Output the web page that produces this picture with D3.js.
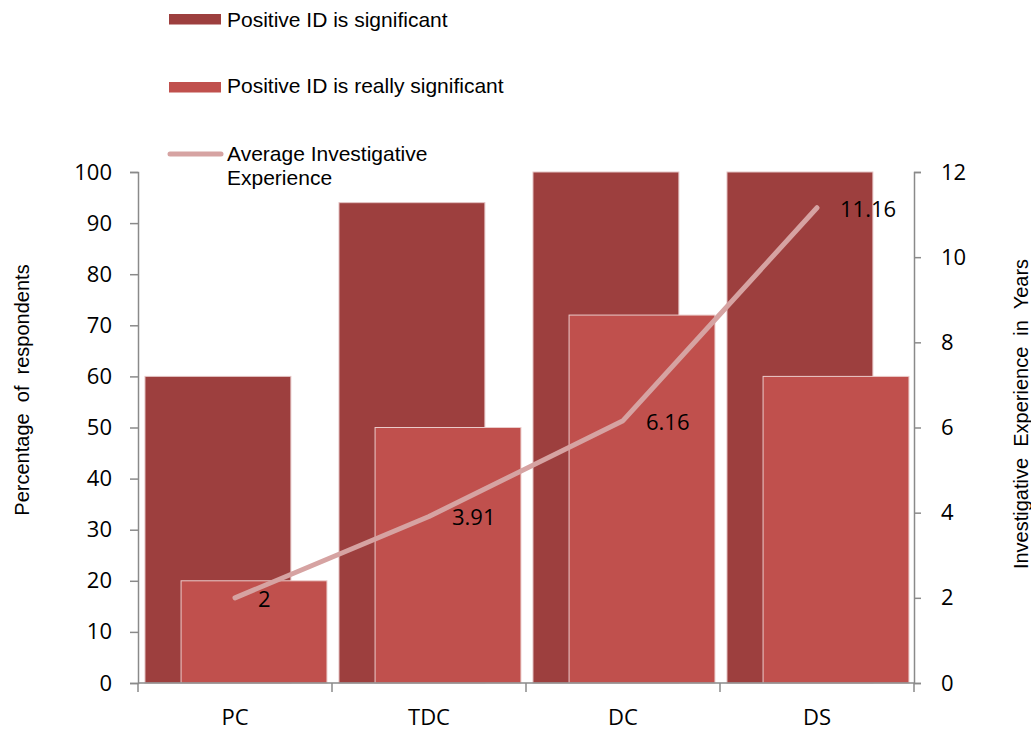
<!DOCTYPE html>
<html>
<head>
<meta charset="utf-8">
<script src="https://cdn.jsdelivr.net/npm/d3@7"></script>
<style>
  html, body { margin: 0; padding: 0; background: #fff; }
  svg { display: block; }
  .num { font-family: "Open Sans", "Noto Sans", sans-serif; font-size: 22px; fill: #000; }
  .lbl { font-family: "Liberation Sans", Arial, sans-serif; font-size: 21px; fill: #000; }
  .ttl { font-family: "Liberation Sans", Arial, sans-serif; font-size: 20px; fill: #000; white-space: pre; }
</style>
</head>
<body>
<svg id="chart" width="1031" height="730"></svg>
<script>
// Survey data
const categories = ["PC", "TDC", "DC", "DS"];
const significant = [60, 94, 100, 100];
const reallySignificant = [20, 50, 72, 60];
const avgExperience = [2, 3.91, 6.16, 11.16];
const leftTicks = [0, 10, 20, 30, 40, 50, 60, 70, 80, 90, 100];
const rightTicks = [0, 2, 4, 6, 8, 10, 12];

const colDark = "#9d3f3e";
const colLight = "#c0504d";
const colLine = "#d6a3a2";
const axisCol = "#8a8a8a";

const svg = d3.select("#chart");
const plot = { left: 138, right: 914, top: 172, bottom: 683 };

const x = d3.scaleBand().domain(categories).range([plot.left, plot.right]).padding(0);
const yL = d3.scaleLinear().domain([0, 100]).range([plot.bottom, plot.top]);
const yR = d3.scaleLinear().domain([0, 12]).range([plot.bottom, plot.top]);

const bw = x.bandwidth();
const barW = bw * 0.752;
const offDark = bw * 0.036;
const offLight = bw * 0.222;

// Bars: first series behind, second overlapping in front
svg.append("g").selectAll("rect").data(categories).join("rect")
  .attr("x", (d) => x(d) + offDark)
  .attr("y", (d, i) => yL(significant[i]))
  .attr("width", barW)
  .attr("height", (d, i) => yL(0) - yL(significant[i]))
  .attr("fill", colDark)
  .attr("stroke", "#e4c3c3").attr("stroke-width", 1);

svg.append("g").selectAll("rect").data(categories).join("rect")
  .attr("x", (d) => x(d) + offLight)
  .attr("y", (d, i) => yL(reallySignificant[i]))
  .attr("width", barW)
  .attr("height", (d, i) => yL(0) - yL(reallySignificant[i]))
  .attr("fill", colLight)
  .attr("stroke", "#ebcbca").attr("stroke-width", 1);

// Axes
const axL = d3.axisLeft(yL).tickValues(leftTicks).tickSize(8).tickPadding(18);
const gL = svg.append("g").attr("transform", `translate(${plot.left},0)`).call(axL);
const axR = d3.axisRight(yR).tickValues(rightTicks).tickSize(7).tickPadding(20);
const gR = svg.append("g").attr("transform", `translate(${plot.right},0)`).call(axR);
const axB = d3.axisBottom(x).tickSize(0).tickPadding(26);
const gB = svg.append("g").attr("transform", `translate(0,${plot.bottom})`).call(axB);

[gL, gR, gB].forEach(g => {
  g.select(".domain").attr("stroke", axisCol).attr("stroke-width", 1.5);
  g.selectAll(".tick line").attr("stroke", axisCol).attr("stroke-width", 1.5);
  g.selectAll(".tick text").attr("class", "num").attr("font-size", null).attr("font-family", null).attr("fill", "#000");
});
gB.select(".domain").attr("d", `M${plot.left},0H${plot.right}`);
// category boundary ticks
gB.selectAll(".sep").data(d3.range(categories.length + 1)).join("line")
  .attr("class", "sep")
  .attr("x1", (i) => plot.left + i * bw).attr("x2", (i) => plot.left + i * bw)
  .attr("y1", 0).attr("y2", 9)
  .attr("stroke", axisCol).attr("stroke-width", 1.5);

// Experience line on secondary axis
const line = d3.line()
  .x((d, i) => x(categories[i]) + bw / 2)
  .y((d) => yR(d));
svg.append("path").datum(avgExperience)
  .attr("d", line)
  .attr("fill", "none")
  .attr("stroke", colLine)
  .attr("stroke-width", 5)
  .attr("stroke-linecap", "round")
  .attr("stroke-linejoin", "round");

svg.append("g").selectAll("text").data(avgExperience).join("text")
  .attr("class", "num")
  .attr("x", (d, i) => x(categories[i]) + bw / 2 + 23)
  .attr("y", (d) => yR(d) + 9)
  .text((d) => d);

// Axis titles
svg.append("text").attr("class", "ttl")
  .attr("transform", `translate(29,390) rotate(-90)`)
  .attr("text-anchor", "middle")
  .text("Percentage  of  respondents");
svg.append("text").attr("class", "ttl")
  .attr("transform", `translate(1028,414) rotate(-90)`)
  .attr("text-anchor", "middle")
  .text("Investigative  Experience  in  Years");

// Legend
const legend = svg.append("g");
legend.append("rect").attr("x", 169).attr("y", 14).attr("width", 52).attr("height", 10.5).attr("fill", colDark);
legend.append("text").attr("class", "lbl").attr("x", 227).attr("y", 27).text("Positive ID is significant");
legend.append("rect").attr("x", 169).attr("y", 82).attr("width", 52).attr("height", 10.5).attr("fill", colLight);
legend.append("text").attr("class", "lbl").attr("x", 227).attr("y", 93).text("Positive ID is really significant");
legend.append("line").attr("x1", 170).attr("x2", 221).attr("y1", 154).attr("y2", 154)
  .attr("stroke", colLine).attr("stroke-width", 5).attr("stroke-linecap", "round");
legend.append("text").attr("class", "lbl").attr("x", 227).attr("y", 161).text("Average Investigative");
legend.append("text").attr("class", "lbl").attr("x", 227).attr("y", 185).text("Experience");
</script>
</body>
</html>
